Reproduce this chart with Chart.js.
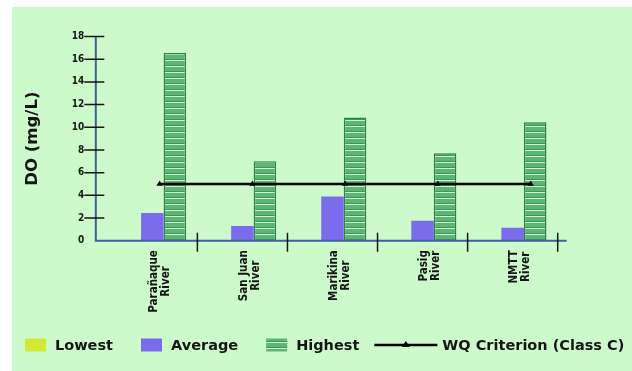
<!DOCTYPE html>
<html>
<head>
<meta charset="utf-8">
<script src="https://cdn.jsdelivr.net/npm/chart.js@4.4.1/dist/chart.umd.min.js"></script>
<style>
  html, body { margin: 0; padding: 0; background: #fff; }
  canvas { display: block; }
</style>
</head>
<body>
<canvas id="doChart" width="632" height="371"></canvas>
<script>
// dissolved oxygen per river, mg/L
const rivers = [["Parañaque", "River"], ["San Juan", "River"], ["Marikina", "River"], ["Pasig", "River"], ["NMTT", "River"]];
const lowest = [0, 0, 0, 0, 0];
const average = [2.45, 1.3, 3.9, 1.75, 1.15];
const highest = [16.55, 7.0, 10.85, 7.7, 10.45];
const criterion = [5, 5, 5, 5, 5];
const yTicks = [0, 2, 4, 6, 8, 10, 12, 14, 16, 18];

const panelGreen = "#ccfacb";
const lowYellow = "#d3e936";
const avgPurple = "#7a6cec";
const darkGreen = "#2f7f48";
const axisBlue = "#3f5f9f";
const ink = "#151515";
const condensed = "'DejaVu Sans Condensed', 'DejaVu Sans', sans-serif";

// green bars: horizontal light stripes on mid green
function stripePattern() {
  const c = document.createElement("canvas");
  c.width = 8; c.height = 6;
  const g = c.getContext("2d");
  g.fillStyle = "#5bb574";
  g.fillRect(0, 0, 8, 6);
  g.fillStyle = "#d2f3d2";
  g.fillRect(0, 0, 8, 1);
  g.fillStyle = "#3f9557";
  g.fillRect(0, 5, 8, 1);
  return g.createPattern(c, "repeat");
}
const stripes = stripePattern();

const frame = {
  id: "frame",
  beforeDraw(chart) {
    const { ctx, width, height } = chart;
    ctx.save();
    ctx.fillStyle = "#fff";
    ctx.fillRect(0, 0, width, height);
    ctx.fillStyle = panelGreen;
    ctx.fillRect(12, 7, width - 12, height - 7);
    ctx.restore();
  },
  afterDraw(chart) {
    const { ctx, chartArea: a, scales: { x, y } } = chart;
    const axisX = a.left - 11.5;
    const catW = a.width / rivers.length;
    ctx.save();

    // axis lines
    ctx.strokeStyle = axisBlue;
    ctx.lineWidth = 2;
    ctx.beginPath();
    ctx.moveTo(axisX, y.getPixelForValue(yTicks[yTicks.length - 1]));
    ctx.lineTo(axisX, a.bottom);
    ctx.lineTo(a.right + 9, a.bottom);
    ctx.stroke();

    // tick marks cross the axes
    ctx.strokeStyle = ink;
    ctx.lineWidth = 1.5;
    ctx.beginPath();
    yTicks.forEach(v => {
      if (v === 0) return;
      const py = y.getPixelForValue(v);
      ctx.moveTo(axisX - 11.5, py);
      ctx.lineTo(axisX + 8.5, py);
    });
    rivers.forEach((r, i) => {
      const px = x.getPixelForValue(i) + catW / 2;
      ctx.moveTo(px, a.bottom - 8);
      ctx.lineTo(px, a.bottom + 11);
    });
    ctx.stroke();

    // river names, rotated, lines centred on each other
    ctx.fillStyle = ink;
    ctx.font = "bold 11.5px " + condensed;
    ctx.textAlign = "center";
    ctx.textBaseline = "middle";
    const lineH = 12;
    rivers.forEach((lines, i) => {
      const w = Math.max(...lines.map(t => ctx.measureText(t).width));
      ctx.save();
      ctx.translate(x.getPixelForValue(i) + 7.5, a.bottom + 9.5);
      ctx.rotate(-Math.PI / 2);
      lines.forEach((t, k) => {
        ctx.fillText(t, -w / 2, (k - (lines.length - 1) / 2) * lineH);
      });
      ctx.restore();
    });

    // legend
    ctx.font = "bold 14.5px 'DejaVu Sans', sans-serif";
    ctx.textAlign = "left";
    let lx = 25;
    const cy = 345;
    chart.data.datasets.forEach(ds => {
      if (ds.type === "line") {
        lx -= 13;
        ctx.strokeStyle = ds.borderColor;
        ctx.lineWidth = 2.5;
        ctx.beginPath();
        ctx.moveTo(lx, cy);
        ctx.lineTo(lx + 63, cy);
        ctx.stroke();
        ctx.fillStyle = ds.pointBackgroundColor;
        ctx.beginPath();
        ctx.moveTo(lx + 31.5, cy - 4);
        ctx.lineTo(lx + 35.5, cy + 2);
        ctx.lineTo(lx + 27.5, cy + 2);
        ctx.closePath();
        ctx.fill();
        lx += 68;
      } else {
        ctx.fillStyle = ds.backgroundColor;
        ctx.fillRect(lx, cy - 6.5, 21, 13);
        lx += 30;
      }
      ctx.fillStyle = ink;
      ctx.fillText(ds.label, lx, cy + 1);
      lx += ctx.measureText(ds.label).width + 28;
    });
    ctx.restore();
  }
};

// vertical bars; indexAxis is set per dataset so the criterion line's
// separate x axis is not counted as a second bar group
const barOpts = { indexAxis: "x", categoryPercentage: 0.75, barPercentage: 1.0, order: 1 };

new Chart(document.getElementById("doChart"), {
  type: "bar",
  data: {
    labels: rivers,
    datasets: [
      { ...barOpts, label: "Lowest", data: lowest, backgroundColor: lowYellow, borderWidth: 0 },
      { ...barOpts, label: "Average", data: average, backgroundColor: avgPurple, borderWidth: 0 },
      { ...barOpts, label: "Highest", data: highest, backgroundColor: stripes,
        borderColor: darkGreen, borderWidth: { left: 1.5, right: 1.5, top: 1.5, bottom: 0 } },
      { type: "line", indexAxis: "x", label: "WQ Criterion (Class C)", order: 0, xAxisID: "x2",
        data: criterion.map((v, i) => ({ x: i, y: v })),
        borderColor: "#000", borderWidth: 2.5,
        pointStyle: "triangle", pointRadius: 3.5, pointBorderWidth: 0,
        pointBackgroundColor: "#000" }
    ]
  },
  options: {
    indexAxis: "y",
    responsive: false,
    devicePixelRatio: 1,
    animation: false,
    events: [],
    layout: { padding: { left: 0, top: 36.5, right: 74.3, bottom: 130.3 } },
    plugins: { legend: { display: false }, tooltip: { enabled: false } },
    scales: {
      x: {
        type: "category",
        offset: true,
        grid: { display: false },
        border: { display: false },
        ticks: { display: false },
        afterFit: s => { s.height = 0; }
      },
      // criterion line runs on its own hidden axis
      x2: { type: "linear", position: "bottom", display: false, offset: false, bounds: "data",
        grid: { offset: false }, min: -0.563, max: 4.29 },
      y: {
        type: "linear",
        position: "left",
        offset: false,
        min: 0, max: 18,
        grid: { display: false, drawTicks: false, offset: false },
        border: { display: false },
        afterBuildTicks: s => { s.ticks = yTicks.map(v => ({ value: v })); },
        afterFit: s => { s.width = 107.3; },
        ticks: { padding: 23, color: ink, font: { family: condensed, size: 10, weight: "bold" } },
        title: { display: true, text: "DO (mg/L)", color: ink, padding: { top: 22.6, bottom: 0 },
          font: { family: "'DejaVu Sans', sans-serif", size: 16.5, weight: "bold" } }
      }
    }
  },
  plugins: [frame]
});
</script>
</body>
</html>
